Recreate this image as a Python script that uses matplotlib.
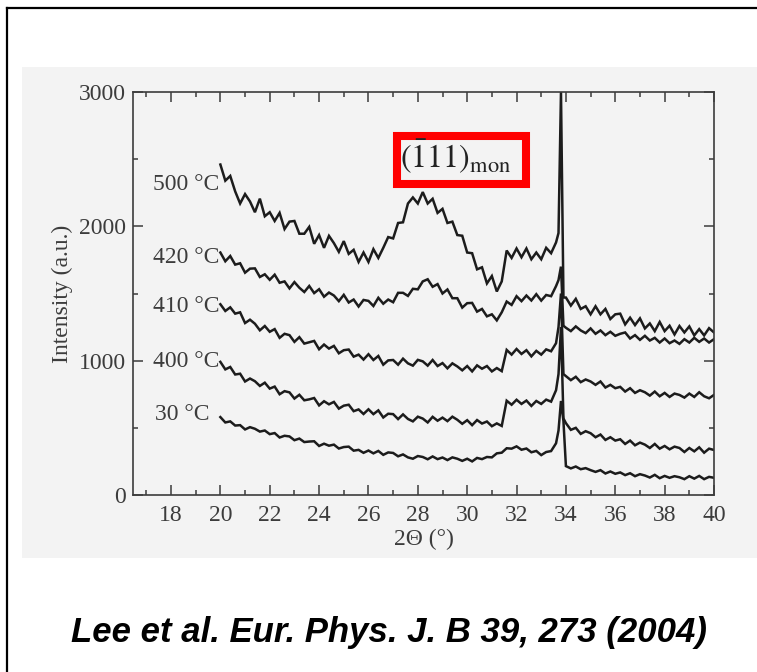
import numpy as np
import matplotlib
matplotlib.use("Agg")
import matplotlib.pyplot as plt
from matplotlib.patches import Rectangle
from matplotlib.lines import Line2D
from matplotlib.ticker import MultipleLocator

plt.rcParams['font.family'] = ['Liberation Serif', 'DejaVu Serif']
plt.rcParams['mathtext.fontset'] = 'stix'

# ---- data ----
two_theta = np.concatenate([
    np.round(np.arange(20.0, 33.61, 0.2), 1),
    [33.7, 33.8, 33.9],
    np.round(np.arange(34.0, 40.01, 0.2), 1),
])

temps = ["500 °C", "420 °C", "410 °C", "400 °C", "30 °C"]
label_y = [2310, 1770, 1405, 995, 600]
label_x = [19.95, 19.95, 19.95, 19.95, 19.55]

I_500 = [2460, 2340, 2375, 2260, 2170, 2240, 2185, 2105, 2206, 2075,
         2105, 2040, 2100, 1980, 2035, 2040, 1945, 1945, 1996, 1870,
         1935, 1840, 1929, 1875, 1810, 1890, 1795, 1825, 1735, 1805,
         1735, 1830, 1765, 1840, 1920, 1910, 2025, 2030, 2170, 2215,
         2170, 2255, 2170, 2205, 2100, 2130, 2025, 2035, 1935, 1930,
         1805, 1800, 1680, 1695, 1575, 1630, 1515, 1590, 1820, 1765,
         1835, 1770, 1835, 1755, 1805, 1755, 1840, 1800, 1880,
         1950, 3000, 1470,
         1470, 1410, 1460, 1385, 1405, 1345, 1405, 1345, 1385, 1310,
         1345, 1350, 1270, 1320, 1265, 1315, 1240, 1277, 1220, 1288,
         1220, 1260, 1195, 1258, 1210, 1255, 1188, 1235, 1188, 1242,
         1210]

I_420 = [1805, 1740, 1779, 1715, 1725, 1655, 1685, 1687, 1623, 1643,
         1602, 1640, 1580, 1590, 1538, 1585, 1543, 1511, 1556, 1503,
         1532, 1476, 1507, 1485, 1443, 1490, 1433, 1455, 1403, 1452,
         1445, 1407, 1468, 1424, 1455, 1435, 1505, 1505, 1482, 1535,
         1531, 1590, 1606, 1550, 1570, 1500, 1530, 1465, 1465, 1395,
         1428, 1430, 1365, 1385, 1330, 1345, 1300, 1360, 1440, 1415,
         1480, 1443, 1485, 1448, 1495, 1447, 1489, 1480, 1555,
         1600, 1700, 1260,
         1245, 1220, 1255, 1225, 1205, 1240, 1200, 1225, 1190, 1215,
         1185, 1200, 1210, 1165, 1190, 1155, 1185, 1150, 1170, 1135,
         1165, 1130, 1150, 1125, 1160, 1135, 1170, 1140, 1165, 1135,
         1160]

I_410 = [1420, 1370, 1397, 1350, 1360, 1280, 1305, 1275, 1226, 1258,
         1215, 1235, 1170, 1200, 1190, 1140, 1175, 1127, 1137, 1147,
         1085, 1120, 1090, 1110, 1055, 1078, 1083, 1030, 1045, 1008,
         1048, 1005, 1035, 970, 1002, 1005, 970, 1015, 980, 963,
         1006, 995, 963, 1005, 960, 982, 943, 980, 957, 928,
         960, 920, 965, 940, 960, 920, 945, 922, 1080, 1045,
         1087, 1050, 1078, 1032, 1073, 1045, 1084, 1070, 1130,
         1250, 1500, 900,
         885, 855, 880, 840, 860, 845, 820, 845, 800, 820,
         795, 805, 770, 795, 760, 780, 765, 740, 770, 735,
         760, 730, 755, 745, 725, 755, 730, 765, 735, 720,
         745]

I_400 = [991, 935, 953, 897, 903, 845, 867, 847, 812, 836,
         792, 807, 750, 773, 764, 718, 746, 705, 712, 722,
         667, 698, 675, 693, 643, 665, 672, 624, 637, 603,
         638, 602, 630, 577, 605, 602, 565, 600, 566, 548,
         583, 569, 540, 582, 553, 576, 550, 583, 560, 530,
         557, 520, 558, 532, 547, 512, 533, 514, 702, 672,
         709, 678, 703, 663, 700, 678, 710, 695, 780,
         900, 1250, 570,
         535, 485, 500, 455, 475, 460, 430, 450, 410, 430,
         405, 415, 380, 405, 370, 390, 375, 350, 380, 345,
         365, 340, 360, 350, 320, 350, 325, 355, 315, 345,
         335]

I_30 = [580, 540, 548, 517, 520, 488, 505, 493, 472, 480,
        453, 461, 428, 441, 436, 408, 420, 394, 398, 400,
        365, 382, 367, 375, 346, 357, 360, 330, 336, 314,
        331, 310, 328, 299, 317, 313, 288, 302, 280, 270,
        290, 283, 266, 287, 267, 279, 260, 280, 270, 254,
        270, 250, 276, 267, 283, 280, 310, 315, 348, 345,
        362, 337, 346, 318, 328, 297, 320, 327, 385,
        480, 700, 550,
        215, 198, 212, 192, 200, 185, 172, 185, 160, 175,
        158, 168, 148, 162, 140, 155, 145, 130, 150, 125,
        142, 128, 140, 132, 118, 140, 122, 142, 118, 135,
        128]

series = [I_500, I_420, I_410, I_400, I_30]
for s in series:
    assert len(s) == len(two_theta), len(s)

x_ticks = [18, 20, 22, 24, 26, 28, 30, 32, 34, 36, 38, 40]
y_ticks = [0, 1000, 2000, 3000]

# ---- figure ----
W, H = 757, 672
fig = plt.figure(figsize=(W / 100, H / 100), dpi=100)
fig.patch.set_facecolor('white')

# scanned page background
fig.patches.append(Rectangle((22 / W, 1 - 558 / H), (W - 22) / W, (558 - 67) / H,
                             transform=fig.transFigure, facecolor='#f3f3f3',
                             edgecolor='none', zorder=-10))
# outer frame (left and top visible)
fig.add_artist(Line2D([7 / W, 7 / W], [0, 1 - 8 / H], transform=fig.transFigure,
                      color='black', lw=1.6))
fig.add_artist(Line2D([7 / W, 1], [1 - 8 / H, 1 - 8 / H], transform=fig.transFigure,
                      color='black', lw=1.6))

ax = fig.add_axes([133 / W, 1 - 495 / H, (714 - 133) / W, (495 - 92) / H])
ax.set_facecolor('none')
ax.set_zorder(1)

ink = '#1c1c1c'
grey = '#3c3c3c'
for vals in series:
    ax.plot(two_theta, vals, color=ink, lw=1.8, solid_joinstyle='miter')

for lab, lx, ly in zip(temps, label_x, label_y):
    ax.text(lx, ly, lab, ha='right', va='center', fontsize=17, color=grey)

ax.set_xlim(16.46, 40)
ax.set_ylim(0, 3000)
ax.set_xticks(x_ticks)
ax.set_yticks(y_ticks)
ax.xaxis.set_minor_locator(MultipleLocator(1))
ax.yaxis.set_minor_locator(MultipleLocator(500))
ax.tick_params(which='both', direction='in', top=True, right=True,
               colors=grey, labelsize=17, width=1.1)
ax.tick_params(which='major', length=7)
ax.tick_params(which='minor', length=3.5)
ax.tick_params(axis='x', pad=7)
ax.tick_params(axis='y', pad=5)
for sp in ax.spines.values():
    sp.set_color(grey)
    sp.set_linewidth(1.2)

ax.set_xlabel('2Θ (°)', fontsize=17, color=grey, labelpad=2)
ax.set_ylabel('Intensity (a.u.)', fontsize=17, color=grey, labelpad=4)

# red highlight box with reflection label
fig.patches.append(Rectangle((397 / W, 1 - 184 / H), (526 - 397) / W, (184 - 136) / H,
                             transform=fig.transFigure, facecolor='none',
                             edgecolor='#ff0000', lw=5.8, zorder=5))
fig.text(400 / W, 1 - 168 / H, r'$(\bar{1}11)_{\rm mon}$', fontsize=23,
         color='#222222', ha='left', va='baseline', zorder=6)

# caption
fig.text(389 / W, 1 - 642 / H, 'Lee et al. Eur. Phys. J. B 39, 273 (2004)',
         family='Liberation Sans', fontweight='bold', fontstyle='italic',
         fontsize=25, ha='center', va='baseline', color='black')

fig.savefig('out.png', dpi=100)
